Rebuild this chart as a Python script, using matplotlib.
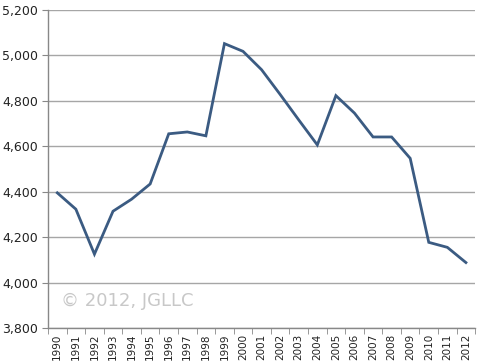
import matplotlib
matplotlib.use("Agg")
import matplotlib.pyplot as plt
from matplotlib.ticker import FuncFormatter, FixedLocator

years = [str(y) for y in range(1990, 2013)]
values = [4395, 4323, 4125, 4314, 4367, 4434, 4655, 4663, 4646, 5052, 5018,
          4937, 4828, 4716, 4606, 4823, 4746, 4641, 4641, 4547, 4177, 4155, 4088]
yticks = [3800, 4000, 4200, 4400, 4600, 4800, 5000, 5200]

fig = plt.figure(figsize=(4.8, 3.64), dpi=100)
ax = fig.add_axes([0.1, 0.099, 0.89, 0.8735])
x = list(range(len(years)))
ax.plot(x, values, color="#3b5b82", linewidth=2.0, solid_joinstyle="miter", zorder=3)

ax.set_xlim(-0.5, len(years) - 0.5)
ax.set_ylim(3800, 5200)
ax.set_yticks(yticks)
ax.yaxis.set_major_formatter(FuncFormatter(lambda v, p: f"{int(v):,}"))
ax.set_xticks(x)
ax.set_xticklabels(years, rotation=90, fontsize=7.5, color="#222222")
ax.xaxis.set_minor_locator(FixedLocator([i - 0.5 for i in range(len(years) + 1)]))
ax.tick_params(axis="x", which="major", length=0, pad=4)
ax.tick_params(axis="x", which="minor", length=4, color="#888888")
ax.tick_params(axis="y", length=4, color="#888888", labelsize=9, labelcolor="#222222", pad=3)
ax.grid(axis="y", color="#a6a6a6", linewidth=1.0, zorder=0)
for s in ["top", "right"]:
    ax.spines[s].set_visible(False)
for s in ["left", "bottom"]:
    ax.spines[s].set_color("#888888")
    ax.spines[s].set_linewidth(1.0)

ax.text(0.18, 3920, "\u00a9 2012, JGLLC", fontsize=13, color="#c8c8c8",
        ha="left", va="center", zorder=2)

fig.savefig("out.png", dpi=100)
